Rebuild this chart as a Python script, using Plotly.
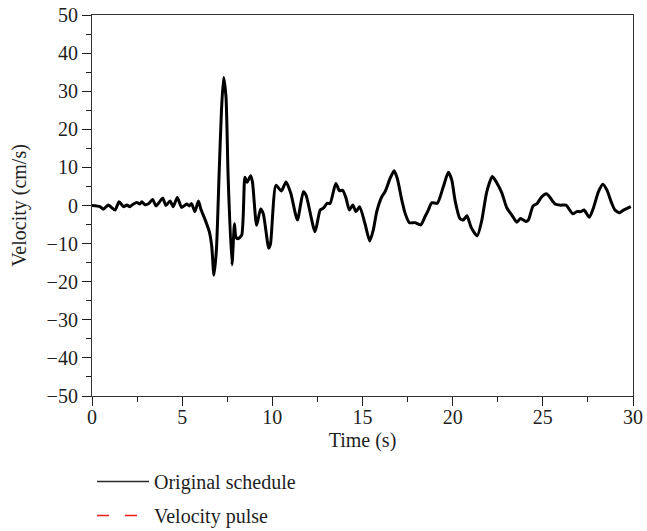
import plotly.graph_objects as go

# Ground-motion velocity record (time in s, velocity in cm/s)
time_s = [
    0.0, 0.44, 0.63, 0.9, 1.28, 1.5, 1.74, 1.93, 2.1, 2.3, 2.48, 2.66, 2.76, 2.95, 3.15,
    3.36, 3.55, 3.92, 4.1, 4.33, 4.5, 4.73, 4.97, 5.25, 5.4, 5.52, 5.71, 5.9, 6.04, 6.27,
    6.5, 6.64, 6.76, 6.9, 7.05, 7.18, 7.3, 7.43, 7.55, 7.76, 7.9, 7.98, 8.1, 8.3, 8.48,
    8.6, 8.8, 8.9, 9.13, 9.35, 9.5, 9.8, 9.9, 10.2, 10.5, 10.76, 11.02, 11.39, 11.72,
    11.87, 12.37, 12.65, 12.83, 13.05, 13.2, 13.52, 13.72, 13.9, 14.09, 14.27, 14.46,
    14.64, 14.84, 15.14, 15.4, 15.6, 15.79, 16.07, 16.25, 16.53, 16.75, 16.93, 17.18,
    17.36, 17.6, 17.91, 18.23, 18.47, 18.65, 18.84, 19.15, 19.48, 19.76, 19.95, 20.13,
    20.4, 20.59, 20.79, 21.03, 21.36, 21.61, 21.89, 22.2, 22.45, 22.72, 23.0, 23.28,
    23.56, 23.76, 24.06, 24.2, 24.46, 24.68, 24.94, 25.2, 25.4, 25.68, 25.96, 26.29,
    26.42, 26.66, 26.88, 27.1, 27.29, 27.58, 27.8, 28.08, 28.33, 28.55, 28.82, 29.0,
    29.25, 29.47, 29.7, 29.88,
]
velocity_cms = [
    0.0, -0.3, -1.0, 0.1, -1.2, 1.0, -0.3, 0.1, -0.3, 0.4, 0.8, 0.4, 1.0, 0.2, 0.5,
    1.6, -0.1, 1.9, 0.0, 1.2, -0.3, 2.1, -0.5, 0.4, -0.1, 0.5, -1.6, 1.2, -1.0, -3.7,
    -6.8, -10.7, -18.3, -11.5, 8.5, 25.0, 33.6, 28.5, 7.4, -15.6, -4.8, -8.3, -8.7, -7.8, 7.4,
    6.1, 7.8, 6.1, -5.2, -0.9, -2.2, -11.2, -10.0, 5.3, 3.8, 6.2, 3.3, -3.8, 3.6,
    2.7, -6.9, -1.2, -0.7, 0.6, 0.5, 5.8, 3.9, 4.0, 1.9, -1.2, 0.1,
    -1.6, -0.3, -4.8, -9.3, -6.4, -1.6, 2.3, 3.6, 7.1, 9.1, 7.1, 1.4,
    -2.0, -4.5, -4.5, -5.1, -2.9, -1.2, 0.7, 0.6, 4.9, 8.7, 6.7, 1.4,
    -3.4, -3.8, -2.7, -5.8, -8.0, -4.0, 3.6, 7.6, 5.9, 3.4, -0.6, -2.5,
    -4.4, -3.4, -4.2, -3.8, -0.1, 0.5, 2.3, 3.1, 2.1, 0.4, 0.1, 0.1,
    -0.7, -2.2, -1.6, -1.6, -1.2, -3.1, -0.7, 3.6, 5.6, 4.1, 0.6, -1.2,
    -1.9, -1.2, -0.7, -0.3,
]

series_names = ["Original schedule", "Velocity pulse"]
x_ticks = [0, 5, 10, 15, 20, 25, 30]
y_ticks = [-50, -40, -30, -20, -10, 0, 10, 20, 30, 40, 50]

FONT = "Liberation Serif"
FS = 20
INK = "#1e1e1e"

fig = go.Figure()

# recorded velocity history
fig.add_trace(go.Scatter(
    x=time_s, y=velocity_cms, mode="lines",
    line=dict(color="black", width=3, shape="spline", smoothing=0.6),
    showlegend=False, hoverinfo="x+y",
))

# legend entries
fig.add_trace(go.Scatter(
    x=[None], y=[None], mode="lines", name=series_names[0],
    line=dict(color="#2a2a2a", width=1.5), legendgroup="a",
))
fig.add_trace(go.Scatter(
    x=[None], y=[None], mode="lines", name=series_names[1],
    line=dict(color="#ee1c18", width=1.6, dash="12px,16px"), legendgroup="b",
))

axis_common = dict(
    showgrid=False, zeroline=False, showline=True, linecolor="#333333", linewidth=1.2,
    mirror=True, ticks="outside", ticklen=9, tickwidth=1.2, tickcolor=INK,
    tickfont=dict(family=FONT, size=FS, color=INK),
)

fig.update_xaxes(
    range=[0, 30], tickvals=x_ticks, ticklabelstandoff=-6,
    minor=dict(dtick=2.5, ticks="outside", ticklen=5, tickwidth=1.2, tickcolor=INK),
    title=dict(text="Time (s)", font=dict(family=FONT, size=FS, color=INK), standoff=5),
    **axis_common,
)
fig.update_yaxes(
    range=[-50, 50], tickvals=y_ticks,
    minor=dict(dtick=5, ticks="outside", ticklen=5, tickwidth=1.2, tickcolor=INK),
    title=dict(text="Velocity (cm/s)", font=dict(family=FONT, size=FS, color=INK), standoff=14),
    **axis_common,
)

fig.update_layout(
    width=647, height=531,
    margin=dict(l=92, r=14, t=15, b=135, autoexpand=False),
    paper_bgcolor="white", plot_bgcolor="white",
    legend=dict(
        x=0.0, y=0.13, xref="paper", yref="container", xanchor="left", yanchor="top",
        font=dict(family=FONT, size=FS, color=INK),
        tracegroupgap=5, itemwidth=52, bgcolor="rgba(0,0,0,0)",
    ),
)

fig.write_html("out.html")
